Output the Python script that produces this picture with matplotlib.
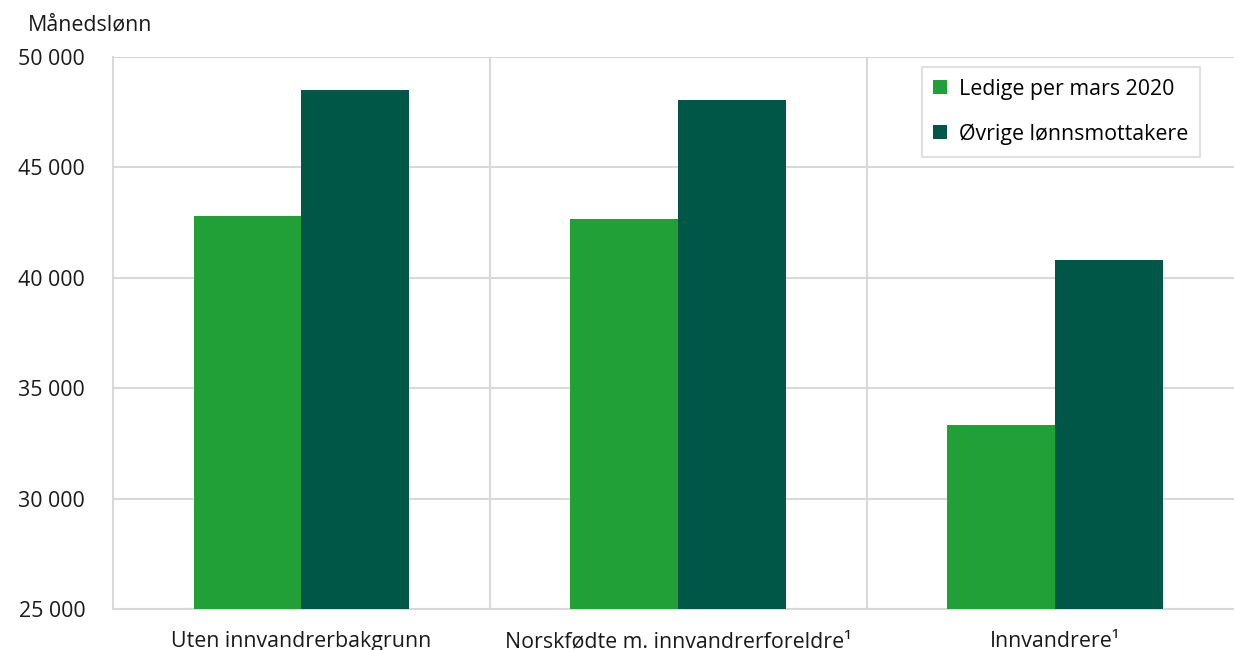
import matplotlib
matplotlib.use("Agg")
import matplotlib.pyplot as plt
import numpy as np

plt.rcParams['font.family'] = ['Open Sans', 'DejaVu Sans']

categories = ['Uten innvandrerbakgrunn', 'Norskfødte m. innvandrerforeldre¹', 'Innvandrere¹']
ledige = [42800, 42650, 33350]
ovrige = [48500, 48050, 40800]
series_names = ['Ledige per mars 2020', 'Øvrige lønnsmottakere']
yticks = [25000, 30000, 35000, 40000, 45000, 50000]
ytick_labels = ['25 000', '30 000', '35 000', '40 000', '45 000', '50 000']

c_green = '#21a038'
c_dark = '#005647'
c_grid = '#d9d9d9'
fs = 15.4

fig = plt.figure(figsize=(12.34, 6.5), dpi=100)
ax = fig.add_axes([113/1234, 1 - 609/650, 1 - 113/1234, (609-57)/650])

x = np.arange(len(categories))
w = 0.286
ax.bar(x - w/2, ledige, w, color=c_green, label=series_names[0], zorder=3)
ax.bar(x + w/2, ovrige, w, color=c_dark, label=series_names[1], zorder=3)

ax.set_ylim(25000, 50000)
ax.set_xlim(-0.5, 2.475)
ax.set_yticks(yticks)
ax.set_yticklabels(ytick_labels)
ax.set_xticks(x)
ax.set_xticklabels(categories)
ax.tick_params(axis='both', length=0, labelsize=fs, colors='#1a1a1a')
ax.tick_params(axis='y', pad=20)
ax.tick_params(axis='x', pad=16)

ax.grid(axis='y', color=c_grid, linewidth=1.5, zorder=0)
for xs in [0.5, 1.5]:
    ax.axvline(xs, color=c_grid, linewidth=1.5, zorder=0)

for s in ['top', 'right']:
    ax.spines[s].set_visible(False)
for s in ['left', 'bottom']:
    ax.spines[s].set_color(c_grid)
    ax.spines[s].set_linewidth(1.5)

fig.text(28/1234, 1 - 25/650, 'Månedslønn', fontsize=fs, color='#1a1a1a', va='center', ha='left')

leg = ax.legend(loc='upper right', bbox_to_anchor=(1200/1234, 1 - 67/650),
                bbox_transform=fig.transFigure,
                fontsize=fs, frameon=True, fancybox=False, edgecolor=c_grid,
                handlelength=0.65, handleheight=0.65, handletextpad=0.55,
                labelspacing=1.1, borderpad=0.55, borderaxespad=0)
leg.get_frame().set_linewidth(1.5)

fig.savefig('out.png', dpi=100)
